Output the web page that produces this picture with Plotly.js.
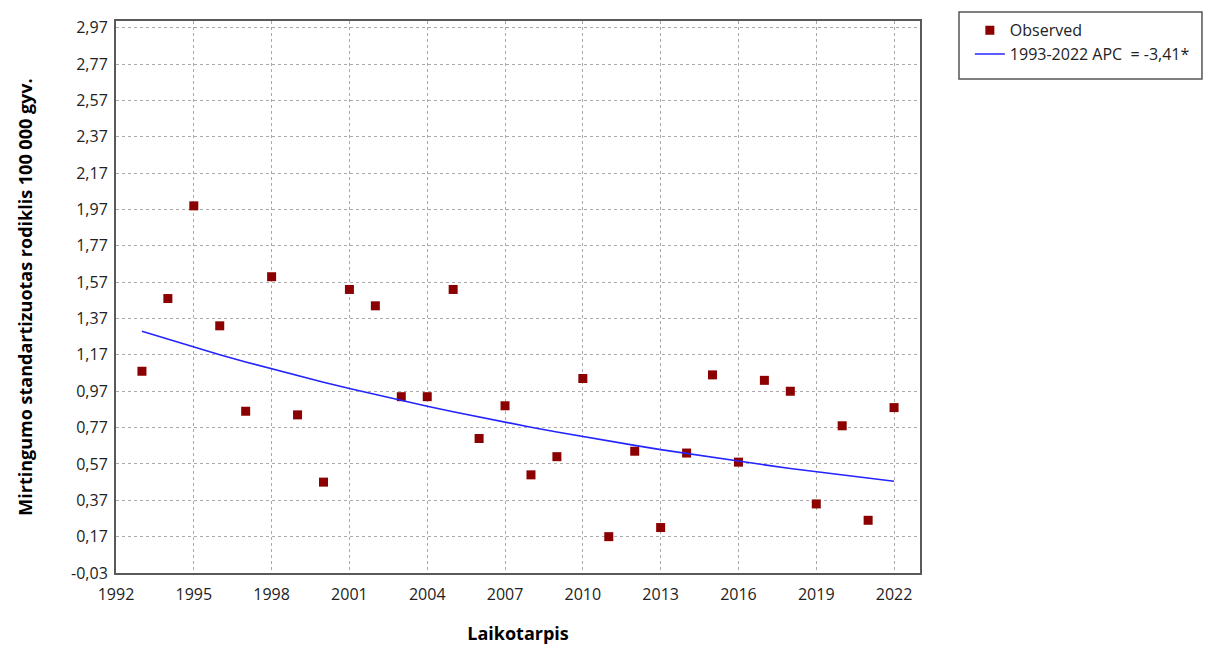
<!DOCTYPE html>
<html>
<head>
<meta charset="utf-8">
<script src="https://cdn.plot.ly/plotly-3.0.1.min.js"></script>
<style>
  html, body { margin: 0; padding: 0; background: #fff; }
  #chart { width: 1211px; height: 645px; }
</style>
</head>
<body>
<div id="chart"></div>
<script>
// Observed standardized mortality rate per 100 000, by year
const years = [1993, 1994, 1995, 1996, 1997, 1998, 1999, 2000, 2001, 2002,
               2003, 2004, 2005, 2006, 2007, 2008, 2009, 2010, 2011, 2012,
               2013, 2014, 2015, 2016, 2017, 2018, 2019, 2020, 2021, 2022];
const observed = [1.08, 1.48, 1.99, 1.33, 0.86, 1.60, 0.84, 0.47, 1.53, 1.44,
                  0.94, 0.94, 1.53, 0.71, 0.89, 0.51, 0.61, 1.04, 0.17, 0.64,
                  0.22, 0.63, 1.06, 0.58, 1.03, 0.97, 0.35, 0.78, 0.26, 0.88];
// Joinpoint model fit, 1993-2022 segment
const fitted = [1.300, 1.256, 1.213, 1.171, 1.131, 1.093, 1.055, 1.019, 0.985, 0.951,
                0.919, 0.887, 0.857, 0.828, 0.800, 0.772, 0.746, 0.720, 0.696, 0.672,
                0.649, 0.627, 0.605, 0.585, 0.565, 0.545, 0.527, 0.509, 0.491, 0.475];
const observedName = 'Observed';
const fitName = '1993-2022 APC  = -3,41*';

// Axis ticks and labels
const xTickVals = [1992, 1995, 1998, 2001, 2004, 2007, 2010, 2013, 2016, 2019, 2022];
const yTickVals = [-0.03, 0.17, 0.37, 0.57, 0.77, 0.97, 1.17, 1.37, 1.57, 1.77,
                   1.97, 2.17, 2.37, 2.57, 2.77, 2.97];
const yTickText = ['-0,03', '0,17', '0,37', '0,57', '0,77', '0,97', '1,17', '1,37',
                   '1,57', '1,77', '1,97', '2,17', '2,37', '2,57', '2,77', '2,97'];
const yTitle = 'Mirtingumo standartizuotas rodiklis 100 000 gyv.';
const xTitle = 'Laikotarpis';

const baseFont = 'Open Sans, Noto Sans, DejaVu Sans, sans-serif';

const traces = [
  {
    x: years, y: observed, name: observedName,
    type: 'scatter', mode: 'markers',
    marker: { symbol: 'square', size: 9, color: '#8b0000' }
  },
  {
    x: years, y: fitted, name: fitName,
    type: 'scatter', mode: 'lines',
    line: { color: '#2424ff', width: 1.6 }
  }
];

const gridStyle = {
  showgrid: true, gridcolor: '#aaaaaa', griddash: 'dot', gridwidth: 1,
  showline: true, linecolor: '#5a5a5a', linewidth: 2, mirror: true,
  zeroline: false, ticks: '',
  tickfont: { family: baseFont, size: 16, color: '#222' }
};

const layout = {
  width: 1211, height: 645,
  margin: { l: 116, r: 291, t: 21, b: 72 },
  paper_bgcolor: '#fff', plot_bgcolor: '#fff',
  showlegend: true,
  legend: {
    x: 1.062, y: 1.014, xanchor: 'left', yanchor: 'top',
    bgcolor: 'rgba(0,0,0,0)', borderwidth: 0,
    font: { family: baseFont, size: 16, color: '#222' },
    tracegroupgap: 0
  },
  xaxis: Object.assign({}, gridStyle, {
    range: [1992, 2023], tickmode: 'array', tickvals: xTickVals,
    ticklabelstandoff: 6,
    title: { text: xTitle, standoff: 24,
             font: { family: baseFont, size: 18, color: '#000', weight: 'bold' } }
  }),
  yaxis: Object.assign({}, gridStyle, {
    range: [-0.03, 3.007], tickmode: 'array', tickvals: yTickVals, ticktext: yTickText,
    ticklabelstandoff: 3,
    title: { text: yTitle, standoff: 34,
             font: { family: baseFont, size: 18, color: '#000', weight: 'bold' } }
  }),
  shapes: [
    { type: 'rect', xref: 'paper', yref: 'paper',
      x0: 1.0485, x1: 1.3507, y0: 0.8949, y1: 1.0163,
      line: { color: '#555', width: 1.5 }, fillcolor: 'rgba(0,0,0,0)' }
  ]
};

Plotly.newPlot('chart', traces, layout, { displayModeBar: false, staticPlot: true });
</script>
</body>
</html>
